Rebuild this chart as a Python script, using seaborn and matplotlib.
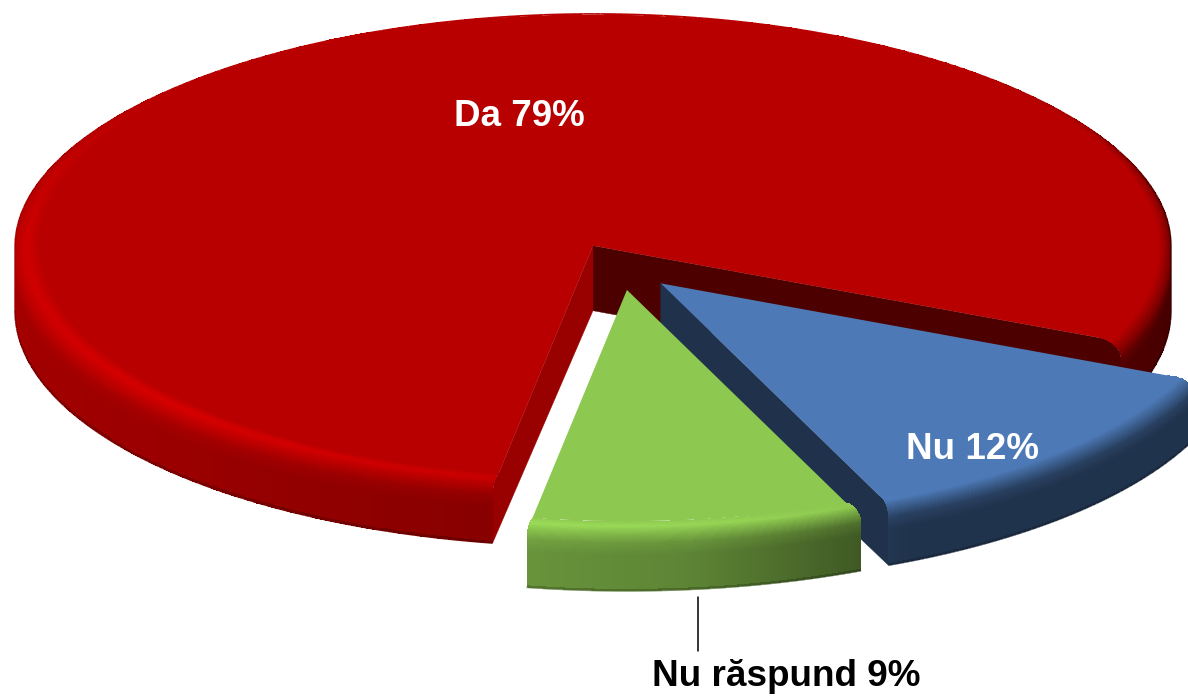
import numpy as np
import matplotlib
matplotlib.use('Agg')
import matplotlib.pyplot as plt
from matplotlib.collections import LineCollection
import seaborn as sns

# chart values
categories = ['Da', 'Nu răspund', 'Nu']
shares = [79, 9, 12]
face_colors = ['#b80000', '#8dc850', '#4d7ab7']

sns.set_theme(style='white')
plt.rcParams['font.family'] = ['Liberation Sans', 'DejaVu Sans']

W, H = 1188, 696
CX, CY = 620.3, 266.5     # pie centre in pixels
KX, KY = 578.0, 236.0     # pixels per unit radius
DEPTH = 65 / KY           # extrusion height
BEVEL = 17 / KY           # height of rounded edge

# brightness around the rim, by angle in degrees
ang_anchor = [0, 15, 35, 50, 135, 165, 180, 225, 260, 276, 295, 340]
wall_anchor = [0.36, 0.45, 0.90, 1.00, 1.00, 0.90, 0.90, 0.84, 0.74, 0.66, 0.42, 0.42]
peak_anchor = [1.00, 1.00, 1.00, 1.00, 1.00, 1.08, 1.12, 1.17, 1.10, 1.07, 1.00, 1.00]
# brightness of the visible cut faces, per slice (start edge, end edge)
cut_shade = [(0.42, 0.83), (0.5, 0.5), (0.41, 0.41)]
slice_z = [1, 5, 3]        # Nu goes behind the green slice
# degrees the rounded rim bulges past each cut (start edge, end edge)
corner_pad = [(0.0, -0.4), (0.4, 1.1), (-0.4, 1.0)]


def px_x(x):
    return (x - CX) / KX


def px_y(y):
    return (CY - y) / KY


def flat_radius(theta):
    # flat top reaches a little further at the front than at the sides
    return 0.955 + 0.025 * np.sin(np.radians(theta)) ** 2


fig, ax = plt.subplots(figsize=(W / 100, H / 100), dpi=100)
fig.subplots_adjust(0, 0, 1, 1)
wedges, _ = ax.pie(shares, colors=face_colors, explode=[0.1, 0.1, 0.1], radius=0.98,
                   startangle=-24, wedgeprops=dict(linewidth=0))
ax.set_aspect('auto')

# rim profile: rounded edge then straight wall
u = np.linspace(0, 1, 30)
n_wall = 24
prof_s = np.r_[np.sin(u * np.pi / 2), np.ones(n_wall)]
prof_z = np.r_[BEVEL * (1 - np.cos(u * np.pi / 2)), np.linspace(BEVEL, DEPTH, n_wall)]
prof_u = np.r_[u, np.linspace(1, 1.6, n_wall)]

for i, w in enumerate(wedges):
    z0 = slice_z[i]
    cx, cy = w.center
    w.set_zorder(z0 + 0.5)
    base = np.array(matplotlib.colors.to_rgb(face_colors[i]))

    # cut faces, only those turned towards the viewer
    edges = [(w.theta1, w.theta1 - 90, -corner_pad[i][0]), (w.theta2, w.theta2 + 90, corner_pad[i][1])]
    for k, (edge, normal, edge_pad) in enumerate(edges):
        if np.sin(np.radians(normal)) < 0:
            a = np.radians(edge + edge_pad * prof_s)
            r0 = flat_radius(edge)
            prof_r = r0 + (1 - r0) * prof_s
            xs = np.r_[cx, cx + prof_r * np.cos(a), cx]
            ys = np.r_[cy, cy + prof_r * np.sin(a) - prof_z, cy - DEPTH]
            ax.fill(xs, ys, color=tuple(base * cut_shade[i][k]), lw=0.3, zorder=z0)

    # rim as a mesh over angle and profile
    th = np.linspace(w.theta1, w.theta2, 500)
    frac = (th - w.theta1) / (w.theta2 - w.theta1)
    pad = corner_pad[i][1] * frac - corner_pad[i][0] * (1 - frac)
    rad = np.radians(th + np.outer(prof_s, pad))
    r0 = flat_radius(th)
    R = r0 + np.outer(prof_s, 1 - r0)
    X = cx + R * np.cos(rad)
    Y = cy + R * np.sin(rad) - prof_z[:, None]
    back = np.sin(np.radians(th)) > 0
    Y[:, back] = np.maximum.accumulate(Y[:, back], axis=0)

    mid = (th[:-1] + th[1:]) / 2
    wall = np.interp(mid % 360, ang_anchor, wall_anchor, period=360)
    peak = np.interp(mid % 360, ang_anchor, peak_anchor, period=360)
    t_mid = (prof_u[:-1] + prof_u[1:]) / 2
    shade = np.empty((len(t_mid), len(mid)))
    for j, t in enumerate(t_mid):
        if t < 0.35:
            shade[j] = 1 + (peak - 1) * t / 0.35
        else:
            shade[j] = peak + (wall - peak) * min(1, (t - 0.35) / 0.8)
    front = np.sin(np.radians(mid)) < 0
    shade[-1, front] *= 0.8
    C = np.clip(shade[..., None] * base, 0, 1)
    ax.pcolormesh(X, Y, C, shading='flat', linewidth=0, antialiased=False, zorder=z0 + 1)

    # smooth outline so the mesh edge is not jagged
    pts = np.column_stack([X[-1], Y[-1]])
    segs = np.stack([pts[:-1], pts[1:]], axis=1)
    ax.add_collection(LineCollection(segs, colors=C[-1], linewidths=1.0, zorder=z0 + 1.2))

ax.set_xlim(px_x(0), px_x(W))
ax.set_ylim(px_y(H), px_y(0))

# labels and leader line
ax.text(px_x(519), px_y(116), f'{categories[0]} {shares[0]}%', color='white', fontsize=26.5,
        fontweight='bold', ha='center', va='center', zorder=10)
ax.text(px_x(973), px_y(449), f'{categories[2]} {shares[2]}%', color='white', fontsize=26.5,
        fontweight='bold', ha='center', va='center', zorder=10)
ax.text(px_x(786), px_y(677), f'{categories[1]} {shares[1]}%', color='black', fontsize=26.6,
        fontweight='bold', ha='center', va='center', zorder=10)
ax.plot([px_x(698), px_x(698)], [px_y(597), px_y(651)], color='black', lw=1.1, zorder=10)

fig.savefig('out.png', dpi=100)
